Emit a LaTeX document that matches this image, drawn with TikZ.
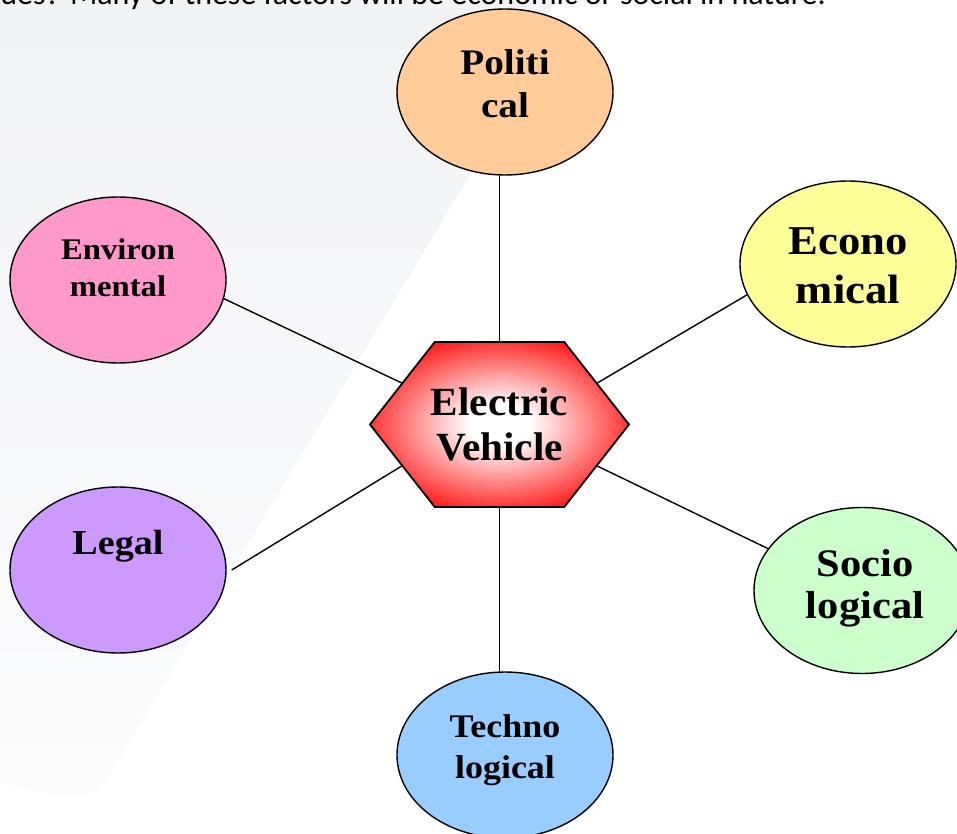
\documentclass[tikz,border=0pt]{standalone}
\usepackage{fontspec}
\setmainfont{Liberation Serif}[FakeStretch=1.09]
\newfontfamily\hexfont{Liberation Serif}[FakeStretch=1.03]
\newfontfamily\notefont{Carlito}
\usetikzlibrary{shapes.geometric}

% glow for the central hexagon: white core, red rim
\pgfdeclareradialshading{evglow}{\pgfpoint{0bp}{0bp}}{%
  color(0bp)=(white); color(6bp)=(white); color(30bp)=(red); color(50bp)=(red)}

% bold label: size, line skip, lift of the first baseline above the centre, lines
\newcommand\factorlabel[4]{\raisebox{#3}[0pt][0pt]{\fontsize{#1}{#2}\selectfont\bfseries
  \begin{tabular}[t]{@{}c@{}}#4\end{tabular}}}

\definecolor{polfill}{HTML}{FFCC99}
\definecolor{ecofill}{HTML}{FFFF99}
\definecolor{envfill}{HTML}{FF99CC}
\definecolor{legfill}{HTML}{CC99FF}
\definecolor{socfill}{HTML}{CCFFCC}
\definecolor{tecfill}{HTML}{99CCFF}
\definecolor{swoosh}{HTML}{F2F3F5}
\definecolor{swooshlow}{HTML}{FBFBFC}

\begin{document}
\begin{tikzpicture}[x=1pt, y=-1pt,
  factor/.style={ellipse, draw=black, line width=1.4pt,
    minimum width=216pt, minimum height=166pt, inner sep=0pt},
  link/.style={draw=black, line width=1.4pt}]

\useasboundingbox (0,0) rectangle (957,834);

% pale backdrop sweeping in from the upper left
\shade[top color=swoosh, bottom color=swooshlow]
  (0,0) -- (556,0) .. controls (522,60) and (500,120) .. (470,175)
  -- (100,790) .. controls (70,800) and (30,792) .. (0,782) -- cycle;

% running text above the figure, mostly cut by the top edge
\node[anchor=base east, inner sep=0pt, font=\notefont\fontsize{32}{38}\selectfont]
  (note) at (826,5) {ues? Many of these factors will be economic or social in nature.};

% the six factors
\node[factor, fill=polfill] (pol) at (505,92)    {\factorlabel{36}{43}{17pt}{Politi\\cal}};
\node[factor, fill=ecofill] (eco) at (848,264)   {\factorlabel{41}{49}{10pt}{Econo\\mical}};
\node[factor, fill=envfill] (env) at (118,280)   {\factorlabel{30}{37}{21pt}{Environ\\mental}};
\node[factor, fill=legfill] (leg) at (118,570)   {\factorlabel{35}{42}{16pt}{Legal}};
\node[factor, fill=socfill] (soc) at (862,590.5) {\hspace*{6pt}\factorlabel{39}{42}{14.5pt}{Socio\\logical}};
\node[factor, fill=tecfill] (tec) at (505,755)   {\factorlabel{33}{41}{18pt}{Techno\\logical}};

% central hexagon
\begin{scope}[shift={(499.5,424.5)}]
  \node[regular polygon, regular polygon sides=6, minimum size=259pt, inner sep=0pt,
        draw=black, line width=1.8pt, shading=evglow,
        yscale=0.7357, transform shape] (hex) at (0,0)
        {\scalebox{1}[1.3593]{\hexfont\factorlabel{40}{45}{9.5pt}{Electric\\Vehicle}}};
\end{scope}

% spokes
\draw[link] (hex.north) -- (hex.north |- pol.south);
\draw[link] (hex.south) -- (hex.south |- tec.north);
\draw[link] (hex.30)  -- (eco.197);
\draw[link] (hex.150) -- (env.350);
\draw[link] (hex.210) -- ([xshift=5pt]leg.east);
\draw[link] (hex.330) -- (soc.156);

\end{tikzpicture}
\end{document}
